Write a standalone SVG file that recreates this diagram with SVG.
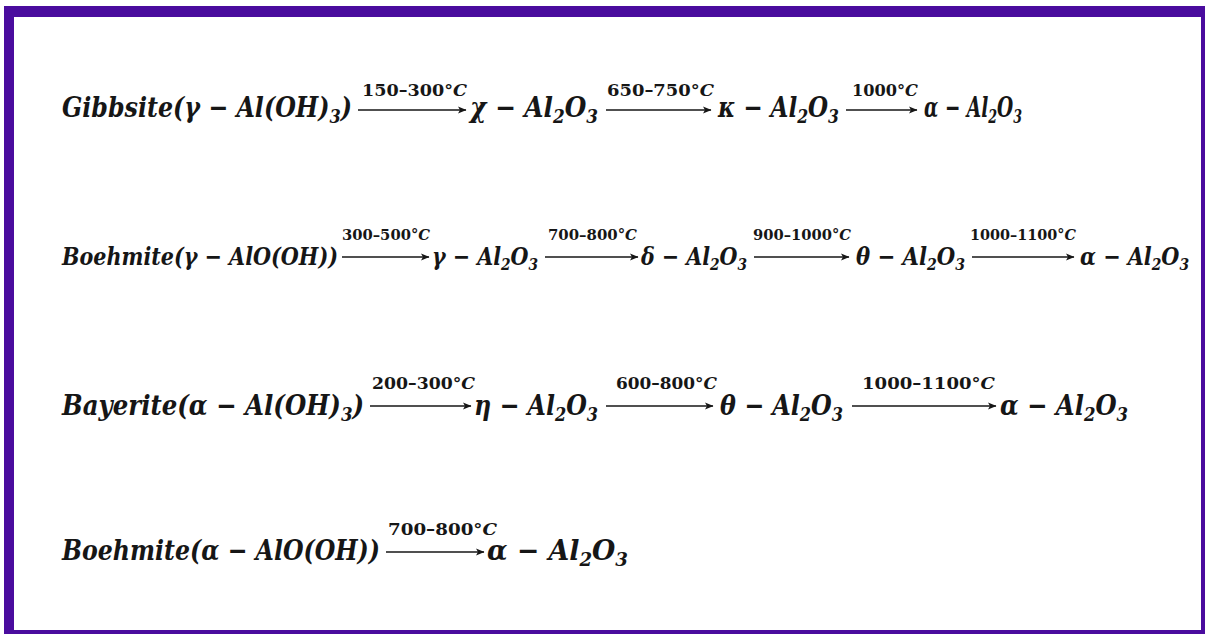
<svg xmlns="http://www.w3.org/2000/svg" width="1208" height="634" viewBox="0 0 1208 634">
<defs>
<style>
.m{font-family:"DejaVu Serif Condensed","DejaVu Serif","Liberation Serif",serif;font-weight:bold;font-style:italic;fill:#161616}
.r1{font-size:28px}
.r2{font-size:24px}
.s1{font-size:19px}
.s2{font-size:16px}
.l{font-family:"DejaVu Serif Condensed","DejaVu Serif","Liberation Serif",serif;font-weight:bold;font-style:normal;fill:#161616}
.l1{font-size:17px}
.l2{font-size:14px}
.c{font-style:italic}
.arr{stroke:#161616;stroke-width:1.6;fill:none}
</style>
<marker id="ah" markerWidth="9" markerHeight="8" refX="8" refY="4" orient="auto" markerUnits="userSpaceOnUse">
<path d="M0,0.5 L8.5,4 L0,7.5 L2,4 z" fill="#161616"/>
</marker>
</defs>
<rect x="0" y="0" width="1208" height="634" fill="#ffffff"/>
<g id="frame" fill="#4a0c9e">
<rect x="4" y="6" width="1201" height="11"/>
<rect x="4" y="6" width="10" height="628"/>
<rect x="1201" y="6" width="4" height="628"/>
<rect x="4" y="630" width="1201" height="4"/>
</g>
<g id="connectors">
<line class="arr" x1="358" y1="110" x2="466" y2="110" marker-end="url(#ah)"/>
<line class="arr" x1="606" y1="110" x2="711" y2="110" marker-end="url(#ah)"/>
<line class="arr" x1="846" y1="110" x2="917" y2="110" marker-end="url(#ah)"/>
<line class="arr" x1="342" y1="257" x2="429" y2="257" marker-end="url(#ah)"/>
<line class="arr" x1="545" y1="257" x2="638" y2="257" marker-end="url(#ah)"/>
<line class="arr" x1="754" y1="257" x2="849" y2="257" marker-end="url(#ah)"/>
<line class="arr" x1="972" y1="257" x2="1074" y2="257" marker-end="url(#ah)"/>
<line class="arr" x1="370" y1="406" x2="471" y2="406" marker-end="url(#ah)"/>
<line class="arr" x1="606" y1="406" x2="713" y2="406" marker-end="url(#ah)"/>
<line class="arr" x1="852" y1="406" x2="996" y2="406" marker-end="url(#ah)"/>
<line class="arr" x1="386" y1="552" x2="484" y2="552" marker-end="url(#ah)"/>
</g>
<g id="row1">
<text class="m r1" x="62" y="117" textLength="290" lengthAdjust="spacingAndGlyphs">Gibbsite(γ − Al(OH)<tspan class="s1" dy="6">3</tspan><tspan dy="-6">)</tspan></text>
<text class="l l1" x="362" y="96" textLength="105" lengthAdjust="spacingAndGlyphs">150–300°<tspan class="c">C</tspan></text>
<text class="m r1" x="470" y="117" textLength="128" lengthAdjust="spacingAndGlyphs">χ − Al<tspan class="s1" dy="6">2</tspan><tspan dy="-6">O</tspan><tspan class="s1" dy="6">3</tspan></text>
<text class="l l1" x="607" y="96" textLength="107" lengthAdjust="spacingAndGlyphs">650–750°<tspan class="c">C</tspan></text>
<text class="m r1" x="718" y="117" textLength="121" lengthAdjust="spacingAndGlyphs">κ − Al<tspan class="s1" dy="6">2</tspan><tspan dy="-6">O</tspan><tspan class="s1" dy="6">3</tspan></text>
<text class="l l1" x="852" y="96" textLength="66" lengthAdjust="spacingAndGlyphs">1000°<tspan class="c">C</tspan></text>
<text class="m r1" x="924" y="117" textLength="98" lengthAdjust="spacingAndGlyphs">α − Al<tspan class="s1" dy="6">2</tspan><tspan dy="-6">O</tspan><tspan class="s1" dy="6">3</tspan></text>
</g>
<g id="row2">
<text class="m r2" x="62" y="265" textLength="276" lengthAdjust="spacingAndGlyphs">Boehmite(γ − AlO(OH))</text>
<text class="l l2" x="342" y="240" textLength="88" lengthAdjust="spacingAndGlyphs">300–500°<tspan class="c">C</tspan></text>
<text class="m r2" x="432" y="265" textLength="106" lengthAdjust="spacingAndGlyphs">γ − Al<tspan class="s2" dy="5">2</tspan><tspan dy="-5">O</tspan><tspan class="s2" dy="5">3</tspan></text>
<text class="l l2" x="548" y="240" textLength="89" lengthAdjust="spacingAndGlyphs">700–800°<tspan class="c">C</tspan></text>
<text class="m r2" x="641" y="265" textLength="106" lengthAdjust="spacingAndGlyphs">δ − Al<tspan class="s2" dy="5">2</tspan><tspan dy="-5">O</tspan><tspan class="s2" dy="5">3</tspan></text>
<text class="l l2" x="753" y="240" textLength="98" lengthAdjust="spacingAndGlyphs">900–1000°<tspan class="c">C</tspan></text>
<text class="m r2" x="856" y="265" textLength="109" lengthAdjust="spacingAndGlyphs">θ − Al<tspan class="s2" dy="5">2</tspan><tspan dy="-5">O</tspan><tspan class="s2" dy="5">3</tspan></text>
<text class="l l2" x="970" y="240" textLength="106" lengthAdjust="spacingAndGlyphs">1000–1100°<tspan class="c">C</tspan></text>
<text class="m r2" x="1080" y="265" textLength="109" lengthAdjust="spacingAndGlyphs">α − Al<tspan class="s2" dy="5">2</tspan><tspan dy="-5">O</tspan><tspan class="s2" dy="5">3</tspan></text>
</g>
<g id="row3">
<text class="m r1" x="62" y="415" textLength="302" lengthAdjust="spacingAndGlyphs">Bayerite(α − Al(OH)<tspan class="s1" dy="6">3</tspan><tspan dy="-6">)</tspan></text>
<text class="l l1" x="372" y="389" textLength="103" lengthAdjust="spacingAndGlyphs">200–300°<tspan class="c">C</tspan></text>
<text class="m r1" x="474" y="415" textLength="124" lengthAdjust="spacingAndGlyphs">η − Al<tspan class="s1" dy="6">2</tspan><tspan dy="-6">O</tspan><tspan class="s1" dy="6">3</tspan></text>
<text class="l l1" x="616" y="389" textLength="101" lengthAdjust="spacingAndGlyphs">600–800°<tspan class="c">C</tspan></text>
<text class="m r1" x="720" y="415" textLength="123" lengthAdjust="spacingAndGlyphs">θ − Al<tspan class="s1" dy="6">2</tspan><tspan dy="-6">O</tspan><tspan class="s1" dy="6">3</tspan></text>
<text class="l l1" x="862" y="389" textLength="133" lengthAdjust="spacingAndGlyphs">1000–1100°<tspan class="c">C</tspan></text>
<text class="m r1" x="1000" y="415" textLength="128" lengthAdjust="spacingAndGlyphs">α − Al<tspan class="s1" dy="6">2</tspan><tspan dy="-6">O</tspan><tspan class="s1" dy="6">3</tspan></text>
</g>
<g id="row4">
<text class="m r1" x="62" y="560" textLength="318" lengthAdjust="spacingAndGlyphs">Boehmite(α − AlO(OH))</text>
<text class="l l1" x="388" y="535" textLength="109" lengthAdjust="spacingAndGlyphs">700–800°<tspan class="c">C</tspan></text>
<text class="m r1" x="487" y="560" textLength="141" lengthAdjust="spacingAndGlyphs">α − Al<tspan class="s1" dy="6">2</tspan><tspan dy="-6">O</tspan><tspan class="s1" dy="6">3</tspan></text>
</g>
</svg>
